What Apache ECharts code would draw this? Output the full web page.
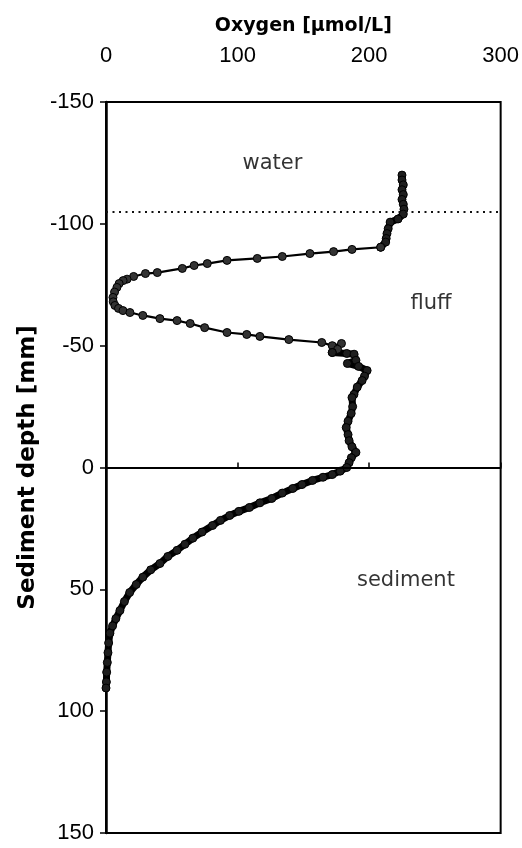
<!DOCTYPE html>
<html>
<head>
<meta charset="utf-8">
<script src="https://cdn.jsdelivr.net/npm/echarts@6/dist/echarts.min.js"></script>
<style>
html,body{margin:0;padding:0;background:#fff;}
#chart{width:522px;height:848px;}
</style>
</head>
<body>
<div id="chart"></div>
<script>
// ---- data (depth in mm, oxygen in µmol/L) ----
const xTicks = [0, 100, 200, 300];
const yTicks = [-150, -100, -50, 0, 50, 100, 150];

// overlying water (dense measurements)
const waterDepth = [-120, -118, -116, -114, -112, -110, -108, -106, -104, -102, -100.7, -98, -96, -94, -92.5, -90.4];
const waterO2    = [225, 225, 226, 225, 226, 225, 226, 226.5, 226, 222, 216, 214.5, 213.6, 213, 212.6, 208.8];

// transition through the fluff layer (sparse measurements)
const fluffDepth = [-90.4, -89.5, -88.6, -87.8, -86.6, -85.8, -85, -83.7, -82.9, -81.7, -80, -79.6, -78.4, -77.3, -76.7, -75.5, -73.9, -72, -69.8, -68, -66.5, -65.3, -64.4, -63.6, -62.4, -61.1, -60.3, -59.1, -57.4, -55.4, -54.6, -53.8, -52.5, -51.3, -50, -50.9, -48.5, -47.2];
const fluffO2    = [208.8, 187, 173, 155, 134, 115, 92, 77, 67, 58, 39, 30, 21, 16, 13, 10, 8.3, 6.5, 5.3, 5.5, 6.8, 9.5, 12.9, 18.2, 28, 41, 54, 64, 75, 92, 107, 117, 139, 164, 172, 179, 176, 172];

// lower fluff and sediment (dense measurements)
const sedDepth = [-47.2, -46.8, -46.5, -44, -42.7, -41.5, -39.8, -37.5, -35.7, -33, -30, -28.7, -25, -22.2, -19, -16.4, -13.5, -11, -8.5, -6.2, -4, -2, 0,
                  1.5, 2.9, 4, 5.3, 7, 8.6, 10.5, 12.7, 14.5, 16.4, 18, 19.7, 21.7, 23.8, 26.5, 29, 31.5, 34, 36.5, 39.4, 42, 45, 48, 51.3, 55, 58.7, 62, 65, 68, 72, 76, 80, 84, 88, 90.5];
const sedO2    = [172, 183, 188.6, 190, 183.5, 192, 198.5, 196.5, 194.7, 191, 188.5, 187, 187.5, 186.4, 184, 182.6, 184, 184.8, 187, 190, 186.5, 184.8, 183,
                  178, 172, 165, 157, 149, 142, 134, 126, 117, 109, 101, 94, 87, 81, 73, 66, 60, 54, 47, 41, 34, 28, 23, 18, 14, 10.6, 7.5, 5, 3, 2, 1.5, 1, 0.5, 0.3, 0];

// horizontal reference levels
const waterFluffBoundary = -105;
const sedimentSurface = 0;

// zone labels [text, oxygen, depth]
const zoneNames = ['water', 'fluff', 'sediment'];
const zoneO2 = [126.5, 247, 228];
const zoneDepth = [-124.7, -67.3, 46.4];

// ---- chart ----
function pairs(o2, d) { return o2.map((v, i) => [v, d[i]]); }

const chart = echarts.init(document.getElementById('chart'), null, {renderer: 'canvas'});
const labelFont = {fontFamily: 'Liberation Sans', fontSize: 22, color: '#000'};
const nameFont = {fontFamily: 'DejaVu Sans', fontWeight: 'bold', color: '#000'};

const option = {
  backgroundColor: '#fff',
  animation: false,
  grid: {left: 106, top: 102, width: 396, height: 731, show: true, borderColor: '#000', borderWidth: 2, backgroundColor: 'transparent'},
  xAxis: {
    type: 'value', position: 'top', min: xTicks[0], max: xTicks[xTicks.length - 1], interval: 100,
    name: 'Oxygen [µmol/L]', nameLocation: 'middle', nameGap: 66,
    nameTextStyle: Object.assign({fontSize: 19}, nameFont),
    axisLine: {show: true, lineStyle: {color: '#000', width: 2}},
    axisTick: {show: true, inside: false, length: 5, lineStyle: {color: '#000', width: 1.5}},
    axisLabel: Object.assign({margin: 35}, labelFont),
    splitLine: {show: false}
  },
  yAxis: {
    type: 'value', inverse: true, min: yTicks[0], max: yTicks[yTicks.length - 1], interval: 50,
    name: 'Sediment depth [mm]', nameLocation: 'middle', nameGap: 61, nameRotate: 90,
    nameTextStyle: Object.assign({fontSize: 23}, nameFont),
    axisLine: {show: true, onZero: false, lineStyle: {color: '#000', width: 2.5}},
    axisTick: {show: true, inside: false, length: 6, lineStyle: {color: '#000', width: 1.5}},
    axisLabel: Object.assign({margin: 12}, labelFont),
    splitLine: {show: false}
  },
  series: [
    {
      type: 'line', data: pairs(waterO2, waterDepth), smooth: false,
      symbol: 'circle', symbolSize: 8, showSymbol: true,
      lineStyle: {color: '#000', width: 7},
      itemStyle: {color: '#1e1e1e', borderColor: '#000', borderWidth: 1},
      z: 3,
      markLine: {
        silent: true, symbol: 'none', label: {show: false},
        data: [
          {yAxis: waterFluffBoundary, lineStyle: {type: [2, 4.5], color: '#111', width: 2.2}},
          {yAxis: sedimentSurface, lineStyle: {type: 'solid', color: '#000', width: 2}}
        ]
      }
    },
    {
      type: 'line', data: pairs(fluffO2, fluffDepth), smooth: false,
      symbol: 'circle', symbolSize: 8, showSymbol: true,
      lineStyle: {color: '#000', width: 2.2},
      itemStyle: {color: '#333', borderColor: '#000', borderWidth: 1},
      z: 3
    },
    {
      type: 'line', data: pairs(sedO2, sedDepth), smooth: false,
      symbol: 'circle', symbolSize: 8, showSymbol: true,
      lineStyle: {color: '#000', width: 7},
      itemStyle: {color: '#1e1e1e', borderColor: '#000', borderWidth: 1},
      z: 3
    },
    {
      type: 'scatter', symbolSize: 0, silent: true,
      data: zoneNames.map((n, i) => ({name: n, value: [zoneO2[i], zoneDepth[i]]})),
      label: {show: true, position: 'inside', formatter: '{b}', fontFamily: 'DejaVu Sans', fontSize: 21, color: '#000'}
    }
  ]
};
chart.setOption(option);
</script>
</body>
</html>
